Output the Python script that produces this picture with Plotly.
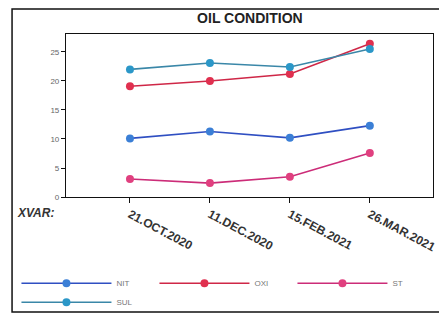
import plotly.graph_objects as go

dates = ["21.OCT.2020", "11.DEC.2020", "15.FEB.2021", "26.MAR.2021"]
nit = [10.1, 11.3, 10.2, 12.3]
oxi = [19.1, 20.0, 21.2, 26.4]
st = [3.1, 2.4, 3.5, 7.6]
sul = [22.0, 23.1, 22.4, 25.5]
yticks = [0, 5, 10, 15, 20, 25]

series = [
    ("NIT", nit, "#2f4fc2", "#3b7fd6"),
    ("OXI", oxi, "#cf2747", "#e0304f"),
    ("ST", st, "#cc2c78", "#e0407f"),
    ("SUL", sul, "#3a87a8", "#2b97c8"),
]

fig = go.Figure()
for name, vals, lc, mc in series:
    fig.add_trace(go.Scatter(
        x=dates, y=vals, name=name, mode="lines+markers",
        line=dict(color=lc, width=1.6),
        marker=dict(color=mc, size=8),
    ))

fig.update_layout(
    width=439, height=313,
    margin=dict(l=58, r=14, t=26, b=124, autoexpand=False),
    paper_bgcolor="white", plot_bgcolor="white",
    font=dict(family="Arial, Liberation Sans, sans-serif", color="#333"),
    title=dict(text="<b>OIL CONDITION</b>", x=0.551, xanchor="center",
               y=0.968, yanchor="middle", font=dict(size=14, color="#222")),
    showlegend=True,
    legend=dict(orientation="h", x=-0.135, xanchor="left", y=-0.44, yanchor="top",
                entrywidth=33, entrywidthmode="pixels",
                font=dict(size=8, color="#777"), bgcolor="rgba(0,0,0,0)",
                tracegroupgap=0, itemwidth=90),
    xaxis=dict(type="category", range=[-0.8, 3.79], showline=True, linecolor="#111",
               linewidth=1.2, mirror=True, ticks="outside", ticklen=5, tickcolor="#111",
               tickangle=28, automargin=False,
               tickfont=dict(size=12, color="#333", family="Arial, sans-serif",
                             weight="bold"),
               showgrid=False, zeroline=False),
    yaxis=dict(range=[0, 28.1], tickvals=yticks, showline=True, linecolor="#111",
               linewidth=1.2, mirror=True, ticks="outside", ticklen=4, tickcolor="#111",
               automargin=False,
               tickfont=dict(size=8, color="#666"), showgrid=False, zeroline=False),
    shapes=[dict(type="rect", xref="paper", yref="paper", x0=-0.147, x1=1.019,
                 y0=-0.706, y1=1.153, line=dict(color="#111", width=1.5))],
    annotations=[dict(text="<b><i>XVAR:</i></b>", xref="paper", yref="paper",
                      x=-0.139, y=-0.098, xanchor="left", yanchor="middle", showarrow=False,
                      font=dict(size=12, color="#333"))],
)

fig.write_html("out.html")
